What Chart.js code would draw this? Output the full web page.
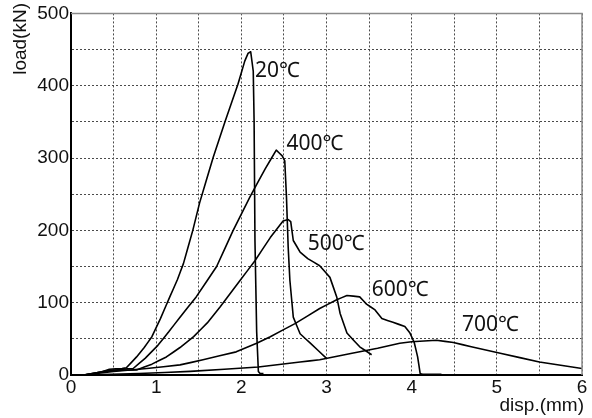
<!DOCTYPE html>
<html>
<head>
<meta charset="UTF-8">
<title>load-disp</title>
<style>
body { margin: 0; background: #fff; }
</style>
</head>
<body>
<canvas id="myChart" width="592" height="418"></canvas>
<script src="https://cdn.jsdelivr.net/npm/chart.js@4"></script>
<script>
// curves: disp (mm) / load (kN)
const x20 = [0.15, 0.35, 0.45, 0.6, 0.65, 0.77, 0.86, 0.95, 1.05, 1.16, 1.25, 1.32, 1.43, 1.51, 1.67, 1.81, 1.96, 2.04, 2.08, 2.11, 2.14, 2.15, 2.16, 2.18, 2.2, 2.22, 2.26];
const y20 = [0, 4, 8, 9, 10, 25, 38, 53, 78, 108, 132, 154, 200, 238, 301, 351, 402, 434, 445, 447, 420, 350, 186, 60, 5, 2, 2];

const x400 = [0.15, 0.4, 0.6, 0.73, 0.87, 1.02, 1.15, 1.28, 1.47, 1.71, 1.9, 2.1, 2.28, 2.41, 2.48, 2.51, 2.53, 2.55, 2.57, 2.61, 2.69, 2.81, 3.0];
const y400 = [0, 5, 8, 9, 23, 41, 60, 80, 108, 150, 199, 246, 285, 311, 303, 296, 246, 177, 131, 80, 57, 44, 23];

const x500 = [0.15, 0.45, 0.77, 0.95, 1.12, 1.28, 1.44, 1.6, 1.75, 1.98, 2.16, 2.34, 2.49, 2.55, 2.58, 2.61, 2.69, 2.78, 2.92, 3.04, 3.12, 3.16, 3.24, 3.39, 3.53];
const y500 = [0, 6, 7, 15, 25, 38, 53, 72, 94, 130, 158, 190, 213, 215, 212, 186, 170, 161, 151, 135, 108, 85, 58, 39, 28];

const x600 = [0.15, 0.5, 0.89, 1.28, 1.55, 1.94, 2.18, 2.34, 2.63, 2.92, 3.12, 3.24, 3.39, 3.47, 3.57, 3.65, 3.78, 3.92, 3.98, 4.03, 4.07, 4.1, 4.13, 4.35];
const y600 = [0, 5, 9, 14, 21, 32, 44, 53, 71, 92, 104, 110, 108, 98, 90, 78, 73, 67, 58, 45, 25, 2, 1, 1];

const x700 = [0.15, 0.8, 1.4, 2.2, 2.69, 2.92, 3.3, 3.6, 3.86, 4.0, 4.29, 4.49, 4.7, 5.04, 5.5, 6.0];
const y700 = [0, 2, 5, 11, 18, 21, 30, 37, 44, 46, 48, 45, 39, 30, 18, 9];

const curveNames = ['20℃', '400℃', '500℃', '600℃', '700℃'];
// where each name sits, in data units (left edge, middle of text)
const nameX = [2.16, 2.53, 2.78, 3.53, 4.59];
const nameY = [420, 319, 181, 117, 69];

const xTicks = [0, 1, 2, 3, 4, 5, 6];
const yTicks = [0, 100, 200, 300, 400, 500];

function pts(xs, ys) {
	return xs.map((v, i) => ({x: v, y: ys[i]}));
}

const tickFont = {family: 'Liberation Sans, Arial, sans-serif', size: 19};
const gridColor = '#4a4a4a';

// curve names, axis names, grey frame on top/right
const extras = {
	id: 'extras',
	afterDatasetsDraw(chart) {
		const ctx = chart.ctx;
		const a = chart.chartArea;
		const sx = chart.scales.x, sy = chart.scales.y;
		ctx.save();
		ctx.strokeStyle = '#8a8a8a';
		ctx.lineWidth = 1.5;
		ctx.beginPath();
		ctx.moveTo(a.left, a.top);
		ctx.lineTo(a.right, a.top);
		ctx.lineTo(a.right, a.bottom);
		ctx.stroke();

		ctx.fillStyle = '#111';
		ctx.font = '21px "Noto Sans", "Noto Sans CJK SC", sans-serif';
		ctx.textAlign = 'left';
		ctx.textBaseline = 'middle';
		curveNames.forEach((t, i) => {
			ctx.fillText(t, sx.getPixelForValue(nameX[i]), sy.getPixelForValue(nameY[i]));
		});

		ctx.font = '19px "Liberation Sans", Arial, sans-serif';
		ctx.textAlign = 'right';
		ctx.fillText('disp.(mm)', a.right + 2, 406);
		ctx.translate(21, 3);
		ctx.rotate(-Math.PI / 2);
		ctx.fillText('load(kN)', 0, 0);
		ctx.restore();
	}
};

const sets = [[x20, y20], [x400, y400], [x500, y500], [x600, y600], [x700, y700]];

new Chart(document.getElementById('myChart'), {
	type: 'scatter',
	data: {
		datasets: sets.map((s, i) => ({
			label: curveNames[i],
			data: pts(s[0], s[1]),
			showLine: true,
			borderColor: '#000',
			borderWidth: 1.6,
			borderJoinStyle: 'round',
			pointRadius: 0,
			tension: 0.001, // keeps chart.js off its fast path (it merges points in one pixel column)
			fill: false
		}))
	},
	options: {
		responsive: false,
		animation: false,
		devicePixelRatio: 1,
		layout: {padding: {top: 12, right: 10, left: 0, bottom: 0}},
		plugins: {legend: {display: false}, tooltip: {enabled: false}},
		scales: {
			x: {
				type: 'linear', min: 0, max: 6,
				afterBuildTicks: s => {
					const t = [];
					for (let v = 0; v <= 6; v += 0.5) t.push({value: v});
					s.ticks = t;
				},
				ticks: {
					autoSkip: false, maxRotation: 0, padding: 1, color: '#111', font: tickFont,
					callback: v => xTicks.includes(v) ? String(v) : ''
				},
				grid: {color: gridColor, lineWidth: 1, drawTicks: false},
				border: {color: '#000', width: 2, dash: [2, 2]},
				afterFit: s => { s.height = 43; }
			},
			y: {
				type: 'linear', min: 0, max: 500,
				afterBuildTicks: s => {
					const t = [];
					for (let v = 0; v <= 500; v += 50) t.push({value: v});
					s.ticks = t;
				},
				ticks: {
					autoSkip: false, padding: 2, color: '#111', font: tickFont,
					callback: v => yTicks.includes(v) ? String(v) : ''
				},
				grid: {color: gridColor, lineWidth: 1, drawTicks: false},
				border: {color: '#000', width: 2, dash: [2, 2]},
				afterFit: s => { s.width = 71; }
			}
		}
	},
	plugins: [extras]
});
</script>
</body>
</html>
